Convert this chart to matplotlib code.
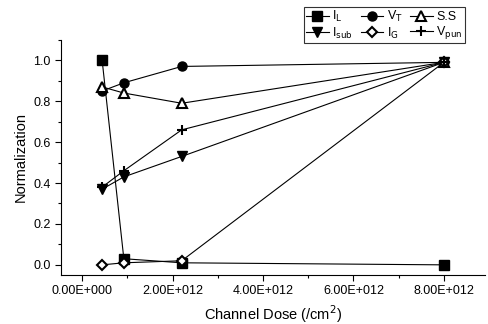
import matplotlib
matplotlib.use("Agg")
import matplotlib.pyplot as plt
from matplotlib.ticker import MultipleLocator, FuncFormatter

plt.rcParams['font.family'] = ['Liberation Sans', 'DejaVu Sans']

# channel dose (/cm^2)
dose = [4.4e11, 9.2e11, 2.2e12, 8.0e12]

# normalized device parameters
I_L = [1.00, 0.03, 0.01, 0.00]
V_T = [0.85, 0.89, 0.97, 0.99]
SS = [0.87, 0.84, 0.79, 0.99]
I_sub = [0.37, 0.43, 0.53, 0.99]
I_G = [0.00, 0.01, 0.02, 0.99]
V_pun = [0.38, 0.46, 0.66, 0.99]

fig = plt.figure(figsize=(4.88, 3.24), dpi=100)
ax = fig.add_axes([0.125, 0.151, 0.868, 0.726])

kw = dict(color='black', lw=0.8, ms=6.5)
l1, = ax.plot(dose, I_L, marker='s', mfc='black', label=r'I$_\mathrm{L}$', **kw)
l2, = ax.plot(dose, V_T, marker='o', mfc='black', label=r'V$_\mathrm{T}$', **kw)
l3, = ax.plot(dose, SS, marker='^', mfc='white', mew=1.5, label='S.S', **kw)
l4, = ax.plot(dose, I_sub, marker='v', mfc='black', label=r'I$_\mathrm{sub}$', **kw)
l5, = ax.plot(dose, I_G, marker='D', mfc='white', mew=1.5, label=r'I$_\mathrm{G}$',
              color='black', lw=0.8, ms=5.5)
l6, = ax.plot(dose, V_pun, marker='+', mew=1.5, label=r'V$_\mathrm{pun}$', **kw)

ax.set_xlim(-0.47e12, 8.9e12)
ax.set_ylim(-0.05, 1.1)
ax.xaxis.set_major_locator(MultipleLocator(2e12))
ax.xaxis.set_minor_locator(MultipleLocator(1e12))
ax.yaxis.set_major_locator(MultipleLocator(0.2))
ax.yaxis.set_minor_locator(MultipleLocator(0.1))

def sci(v, pos):
    return '0.00E+000' if v == 0 else f'{v / 1e12:.2f}E+012'

ax.xaxis.set_major_formatter(FuncFormatter(sci))
ax.yaxis.set_major_formatter(FuncFormatter(lambda v, p: f'{v:.1f}'))
ax.tick_params(which='both', direction='out', labelsize=9, width=0.8)
ax.tick_params(which='major', length=4)
ax.tick_params(which='minor', length=2)

ax.spines['top'].set_visible(False)
ax.spines['right'].set_visible(False)

ax.set_xlabel(r'Channel Dose (/cm$^2$)', fontsize=10.5)
ax.set_ylabel('Normalization', fontsize=10.5)

leg = fig.legend(handles=[l1, l4, l2, l5, l3, l6], ncol=3,
                 loc='upper right', bbox_to_anchor=(0.965, 0.997),
                 fontsize=9, frameon=True, fancybox=False, edgecolor='black',
                 handlelength=1.8, handletextpad=0.3, columnspacing=0.6,
                 labelspacing=0.1, borderpad=0.15)
leg.get_frame().set_linewidth(0.8)

fig.savefig('out.png', dpi=100)
